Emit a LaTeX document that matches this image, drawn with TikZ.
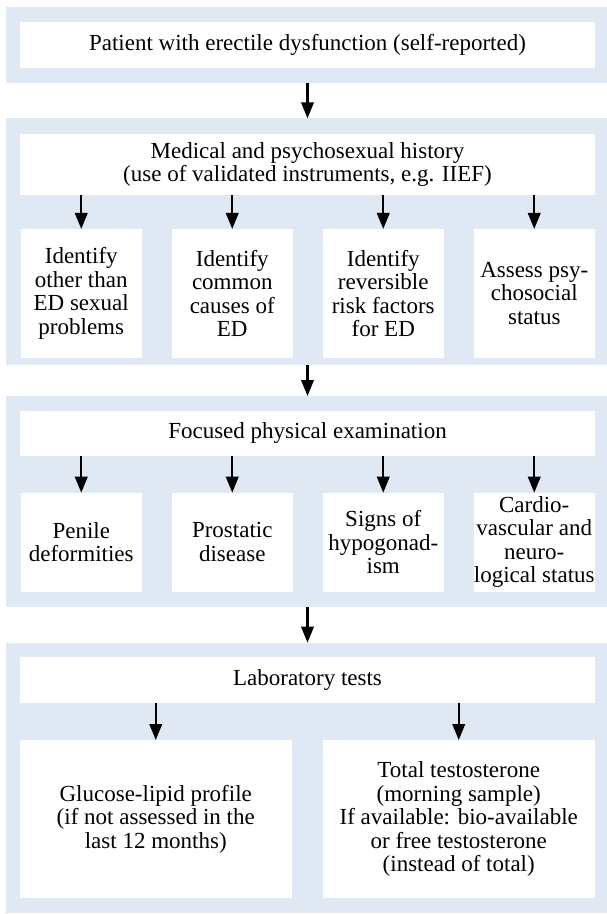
\documentclass[tikz,border=0pt]{standalone}
\usepackage{fontspec}
\setmainfont{Liberation Serif}
\usetikzlibrary{arrows.meta}
\definecolor{panelblue}{RGB}{224,232,244}

\begin{document}
\begin{tikzpicture}[x=1pt,y=-1pt,
    panel/.style={fill=panelblue, inner sep=0pt, outer sep=0pt, minimum width=601pt},
    box/.style={fill=white, inner sep=0pt, outer sep=0pt, align=center,
                font=\fontsize{23}{23.5}\selectfont},
    wide/.style={box, minimum width=575pt},
    small/.style={box, minimum width=121.5pt},
    half/.style={box, minimum width=272pt, minimum height=158pt},
    arr/.style={-{Triangle[length=16pt,width=12.5pt]}, line width=2.2pt}]
    \useasboundingbox (0,0) rectangle (607,914);

    % background panels
    \node[panel, minimum height=75.4pt] (p1) at (306.5,45) {};
    \node[panel, minimum height=246.7pt] (p2) at (306.5,241.7) {};
    \node[panel, minimum height=211pt] (p3) at (306.5,501.5) {};
    \node[panel, minimum height=270.3pt] (p4) at (306.5,777.8) {};

    \node[wide, minimum height=46pt] (pat) at (307.5,45) {Patient with erectile dysfunction (self-reported)};
    \draw[arr] (p1.south -| pat) -- (p2.north -| pat);

    \node[wide, minimum height=61pt] (hist) at (307.5,164.5) {Medical and psychosexual history\\(use of validated instruments, e.g. IIEF)};
    \node[small, minimum height=128.7pt] (id1) at (81.25,293.3) {Identify\\other than\\ED sexual\\problems};
    \node[small, minimum height=128.7pt] (id2) at (232.25,293.3) {Identify\\common\\causes of\\ED};
    \node[small, minimum height=128.7pt] (id3) at (383.25,293.3) {Identify\\reversible\\risk factors\\for ED};
    \node[small, minimum height=128.7pt] (id4) at (534.25,293.3) {Assess psy-\\chosocial\\status};
    \draw[arr] (hist.south -| id1) -- (id1.north);
    \draw[arr] (hist.south -| id2) -- (id2.north);
    \draw[arr] (hist.south -| id3) -- (id3.north);
    \draw[arr] (hist.south -| id4) -- (id4.north);
    \draw[arr] (p2.south -| pat) -- (p3.north -| pat);

    \node[wide, minimum height=45.3pt] (exam) at (307.5,433.3) {Focused physical examination};
    \node[small, minimum height=99pt] (ex1) at (81.25,542.2) {Penile\\deformities};
    \node[small, minimum height=99pt] (ex2) at (232.25,542.2) {Prostatic\\disease};
    \node[small, minimum height=99pt] (ex3) at (383.25,542.2) {Signs of\\hypogonad-\\ism};
    \node[small, minimum height=99pt] (ex4) at (534.25,542.2) {Cardio-\\vascular and\\neuro-\\logical status};
    \draw[arr] (exam.south -| ex1) -- (ex1.north);
    \draw[arr] (exam.south -| ex2) -- (ex2.north);
    \draw[arr] (exam.south -| ex3) -- (ex3.north);
    \draw[arr] (exam.south -| ex4) -- (ex4.north);
    \draw[arr] (p3.south -| pat) -- (p4.north -| pat);

    \node[wide, minimum height=46pt] (lab) at (307.5,680) {Laboratory tests};
    \node[half] (glu) at (155.75,819) {Glucose-lipid profile\\(if not assessed in the\\last 12 months)};
    \node[half] (tt) at (458.75,819) {Total testosterone\\(morning sample)\\If available: bio-available\\or free testosterone\\(instead of total)};
    \draw[arr] (lab.south -| glu) -- (glu.north);
    \draw[arr] (lab.south -| tt) -- (tt.north);
\end{tikzpicture}
\end{document}
